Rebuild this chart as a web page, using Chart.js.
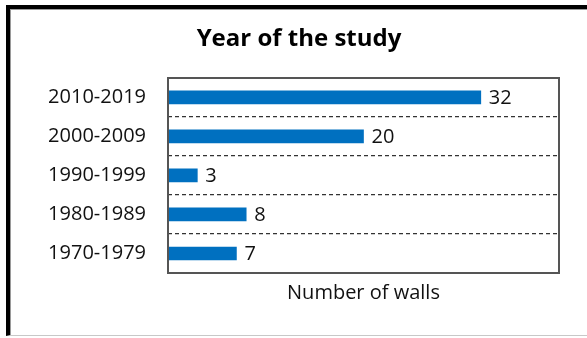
<!DOCTYPE html>
<html>
<head>
<meta charset="utf-8">
<title>Year of the study</title>
<script src="https://cdn.jsdelivr.net/npm/chart.js@4.4.1/dist/chart.umd.min.js"></script>
<style>
	html, body { margin: 0; padding: 0; background: #fff; overflow: hidden; }
	#wrap { position: relative; width: 587px; height: 338px; }
	#chartWalls { position: absolute; left: 0; top: 0; }
	#frame {
		position: absolute; left: 6px; top: 5px; width: 620px; height: 326px;
		border-left: 4px solid #000; border-top: 4px solid #000; border-bottom: 1px solid #c8c8c8;
		box-shadow: inset 1px 1px 0 #9a9a9a;
		pointer-events: none;
	}
</style>
</head>
<body>
<div id="wrap">
	<canvas id="chartWalls" width="587" height="338"></canvas>
	<div id="frame"></div>
</div>
<script>
var decades = ["2010-2019", "2000-2009", "1990-1999", "1980-1989", "1970-1979"];
var walls = [32, 20, 3, 8, 7];
var chartTitle = "Year of the study";
var axisTitle = "Number of walls";

var FONT = "'Open Sans', 'DejaVu Sans', sans-serif";

// solid box round the plot, drawn over the dashed edge lines
var plotFrame = {
	id: 'plotFrame',
	afterDatasetsDraw: function (chart) {
		var a = chart.chartArea, ctx = chart.ctx;
		var l = Math.round(a.left), t = Math.round(a.top);
		var r = Math.round(a.right), b = Math.round(a.bottom);
		ctx.save();
		ctx.strokeStyle = "#555";
		ctx.lineWidth = 2;
		ctx.setLineDash([]);
		ctx.strokeRect(l, t, r - l, b - t);
		ctx.restore();
	}
};

// value next to the end of each bar
var barValues = {
	id: 'barValues',
	afterDatasetsDraw: function (chart) {
		var ctx = chart.ctx;
		var meta = chart.getDatasetMeta(0);
		ctx.save();
		ctx.font = "20px " + FONT;
		ctx.fillStyle = "#111";
		ctx.textAlign = "left";
		ctx.textBaseline = "middle";
		meta.data.forEach(function (bar, i) {
			ctx.fillText(String(walls[i]), bar.x + 8, bar.y + 1);
		});
		ctx.restore();
	}
};

var ctx = document.getElementById("chartWalls");
var barGraph = new Chart(ctx, {
	type: 'bar',
	data: {
		labels: decades,
		datasets: [{
			label: axisTitle,
			data: walls,
			backgroundColor: "#0070C0",
			borderWidth: 0,
			barThickness: 13
		}]
	},
	options: {
		indexAxis: 'y',
		responsive: false,
		animation: false,
		devicePixelRatio: 1,
		layout: {
			padding: { left: 39, right: 28, top: 0, bottom: 0 }
		},
		plugins: {
			legend: { display: false },
			tooltip: { enabled: false },
			title: {
				display: true,
				text: chartTitle,
				color: "#000",
				font: { family: FONT, size: 24, weight: 'bold' },
				padding: { top: 25, bottom: 24 }
			}
		},
		scales: {
			x: {
				min: 0,
				max: 40,
				afterFit: function (scale) { scale.height = 65; },
				grid: { display: false },
				border: { display: false },
				ticks: { display: false },
				title: {
					display: true,
					text: axisTitle,
					color: "#111",
					font: { family: FONT, size: 20 },
					padding: { top: 0, bottom: 33 }
				}
			},
			y: {
				afterFit: function (scale) { scale.width = 129; },
				grid: {
					display: true,
					drawTicks: false,
					color: "#333",
					lineWidth: 1.2
				},
				border: { display: false, dash: [4, 3] },
				ticks: {
					color: "#111",
					padding: 22,
					font: { family: FONT, size: 20 }
				}
			}
		}
	},
	plugins: [plotFrame, barValues]
});
</script>
</body>
</html>
